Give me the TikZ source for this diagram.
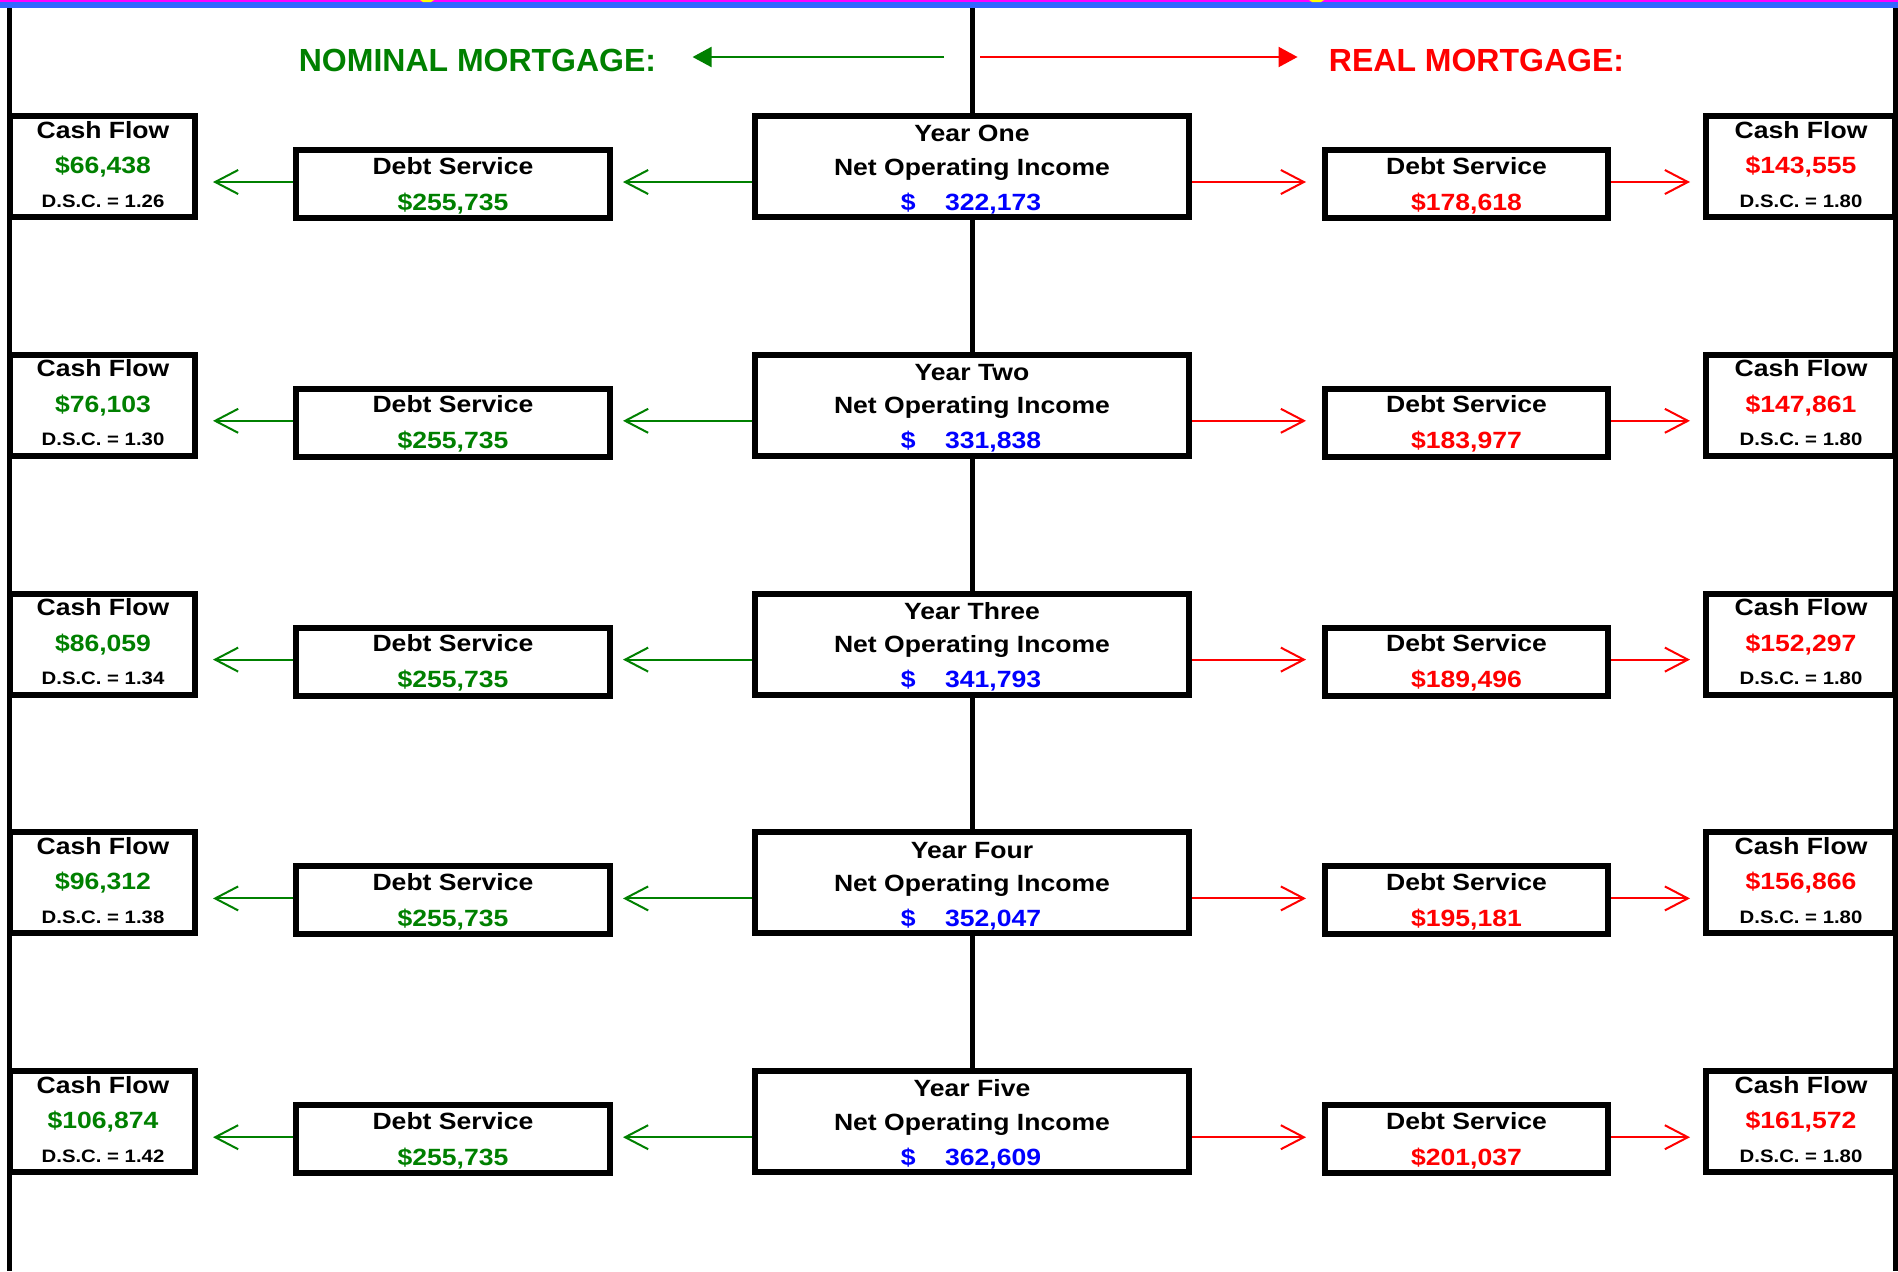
\documentclass[tikz,border=0pt]{standalone}
\usepackage{fontspec}
\setmainfont{Liberation Sans}
\usepackage{graphicx}
\usetikzlibrary{arrows.meta,backgrounds}
\definecolor{xgreen}{RGB}{0,128,0}
\definecolor{xred}{RGB}{255,0,0}
\definecolor{xblue}{RGB}{0,0,255}
\definecolor{stripeblue}{RGB}{51,102,255}
\definecolor{stripemag}{RGB}{255,0,255}
\definecolor{stripeyel}{RGB}{255,255,0}
\newcommand{\wx}[1]{\scalebox{1.13}[1]{#1}}
\tikzset{
  boxbase/.style={draw=black, line width=3pt, fill=white, inner sep=0pt},
  bigbox/.style={boxbase, minimum height=50.5pt},
  dsbox/.style={boxbase, minimum height=34pt},
  txt/.style={inner sep=0pt, anchor=base, font=\fontsize{11.75pt}{14pt}\selectfont\bfseries},
  smalltxt/.style={inner sep=0pt, anchor=base, font=\fontsize{9pt}{11pt}\selectfont\bfseries},
  headtxt/.style={inner sep=0pt, anchor=base, font=\fontsize{16pt}{19pt}\selectfont\bfseries},
  garrow/.style={draw=xgreen, line width=1pt, -{Straight Barb[length=11.5pt,width=12pt]}},
  rarrow/.style={draw=xred, line width=1pt, -{Straight Barb[length=11.5pt,width=12pt]}},
  gbig/.style={draw=xgreen, line width=1pt, -{Triangle[length=9.5pt,width=10pt]}},
  rbig/.style={draw=xred, line width=1pt, -{Triangle[length=9.5pt,width=10pt]}},
  frameline/.style={draw=black, line width=2.5pt},
}
% #1 row, #2 year, #3 NOI, #4 nominal CF, #5 nominal DSC, #6 real DS, #7 real CF, #8 real DSC
\newcommand{\mrow}[8]{%
  \pgfmathsetmacro{\T}{113+238.8*(#1-1)}
  \node[bigbox, minimum width=217pt] (noi#1) at (972,\T+53.5) {};
  \node[dsbox, minimum width=157pt] (nds#1) at (453,\T+71) {};
  \node[dsbox, minimum width=141.5pt] (rds#1) at (1466.5,\T+71) {};
  \node[bigbox, minimum width=92.5pt] (ncf#1) at (102.5,\T+53.5) {};
  \node[bigbox, minimum width=94.5pt] (rcf#1) at (1800.5,\T+53.5) {};
  % texts
  \node[txt] (noiA#1) at (972,\T+28.7) {\wx{Year #2}};
  \node[txt] (noiB#1) at (972,\T+62) {\wx{Net Operating Income}};
  \node[txt, text=xblue] (noiC#1) at (971,\T+97) {\wx{\$\hspace{13pt}#3}};
  \node[txt] (ndsA#1) at (453,\T+61) {\wx{Debt Service}};
  \node[txt, text=xgreen] (ndsB#1) at (453,\T+97) {\wx{\$255,735}};
  \node[txt] (rdsA#1) at (1466.5,\T+61) {\wx{Debt Service}};
  \node[txt, text=xred] (rdsB#1) at (1466.5,\T+97) {\wx{\$#6}};
  \node[txt] (ncfA#1) at (103,\T+25) {\wx{Cash Flow}};
  \node[txt, text=xgreen] (ncfB#1) at (103,\T+60.5) {\wx{\$#4}};
  \node[smalltxt] (ncfC#1) at (103,\T+94) {\wx{D.S.C. = #5}};
  \node[txt] (rcfA#1) at (1801,\T+25) {\wx{Cash Flow}};
  \node[txt, text=xred] (rcfB#1) at (1801,\T+60.5) {\wx{\$#7}};
  \node[smalltxt] (rcfC#1) at (1801,\T+94) {\wx{D.S.C. = #8}};
  % connectors
  \coordinate (ay#1) at (0,\T+69);
  \draw[garrow, shorten >=5pt] (noi#1.west |- ay#1) -- (nds#1.east |- ay#1);
  \draw[garrow, shorten >=7.5pt] (nds#1.west |- ay#1) -- (ncf#1.east |- ay#1);
  \draw[rarrow, shorten >=8pt] (noi#1.east |- ay#1) -- (rds#1.west |- ay#1);
  \draw[rarrow, shorten >=6.5pt] (rds#1.east |- ay#1) -- (rcf#1.west |- ay#1);
}
\begin{document}
\begin{tikzpicture}[x=0.5pt,y=-0.5pt]
  \useasboundingbox (0,0) rectangle (1898,1271);
  % headlines
  \node[headtxt, text=xgreen] (nomhead) at (477.5,71) {NOMINAL MORTGAGE:};
  \node[headtxt, text=xred] (realhead) at (1476.5,71) {REAL MORTGAGE:};
  \coordinate (gstart) at (944,57);
  \coordinate (rstart) at (980,57);
  \draw[gbig, shorten >=18pt] (gstart) -- (nomhead.east |- gstart);
  \draw[rbig, shorten >=15.5pt] (rstart) -- (realhead.west |- rstart);
  % rows
  \mrow{1}{One}{322,173}{66,438}{1.26}{178,618}{143,555}{1.80}
  \mrow{2}{Two}{331,838}{76,103}{1.30}{183,977}{147,861}{1.80}
  \mrow{3}{Three}{341,793}{86,059}{1.34}{189,496}{152,297}{1.80}
  \mrow{4}{Four}{352,047}{96,312}{1.38}{195,181}{156,866}{1.80}
  \mrow{5}{Five}{362,609}{106,874}{1.42}{201,037}{161,572}{1.80}
  % spine and frame
  \begin{scope}[on background layer]
    \fill[white] (0,0) rectangle (1898,1271);
    \coordinate (vtop) at (972,8);
    \draw[frameline] (vtop) -- (noi5.north);
    \coordinate (ltop) at (9.5,8);
    \coordinate (lbot) at (9.5,1271);
    \coordinate (rtop) at (1895.5,8);
    \coordinate (rbot) at (1895.5,1271);
    \draw[frameline] (ltop) -- (lbot);
    \draw[frameline] (rtop) -- (rbot);
  \end{scope}
  % top stripe
  \fill[stripemag] (0,0) rectangle (1898,2);
  \fill[stripeblue] (0,2) rectangle (1898,8);
  \fill[stripeyel] (420,0) -- (434,0) -- (431,2) -- (423,2) -- cycle;
  \fill[stripeyel] (1309,0) -- (1324,0) -- (1321,2) -- (1312,2) -- cycle;
\end{tikzpicture}
\end{document}
